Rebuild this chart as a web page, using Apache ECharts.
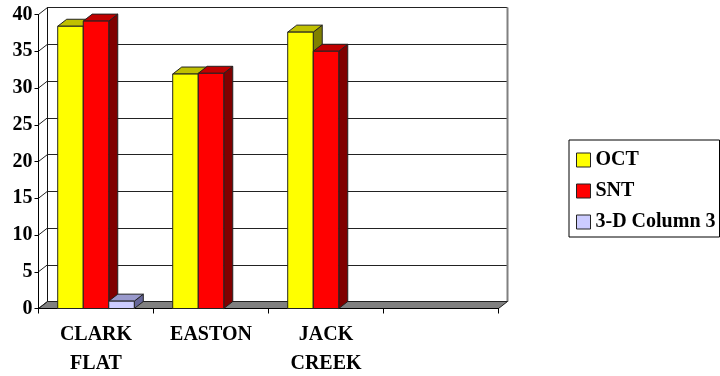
<!DOCTYPE html>
<html>
<head>
<meta charset="utf-8">
<style>html,body{margin:0;padding:0;background:#fff}#chart{width:720px;height:376px}</style>
<script src="https://cdn.jsdelivr.net/npm/echarts@6/dist/echarts.min.js"></script>
</head>
<body>
<div id="chart"></div>
<script>
// Site readings by month
const categories = ['CLARK\nFLAT', 'EASTON', 'JACK\nCREEK', ''];
const octValues = [38.4, 31.9, 37.6, null];
const sntValues = [39.1, 32.0, 35.0, null];
const column3Values = [1.0, null, null, null];
const yTicks = [0, 5, 10, 15, 20, 25, 30, 35, 40];

const FONT = '"Liberation Serif"';
const DEPTH_X = 9, DEPTH_Y = 7;
const BAR_RATIO = 0.222;

function faces(x, yTop, w, yBase, colors) {
  const stroke = { stroke: '#222', lineWidth: 1 };
  const poly = (points, fill) => ({
    type: 'polygon', shape: { points }, style: { fill, ...stroke }
  });
  return [
    poly([[x + w, yTop], [x + w + DEPTH_X, yTop - DEPTH_Y], [x + w + DEPTH_X, yBase - DEPTH_Y], [x + w, yBase]], colors[2]),
    poly([[x, yTop], [x + DEPTH_X, yTop - DEPTH_Y], [x + w + DEPTH_X, yTop - DEPTH_Y], [x + w, yTop]], colors[1]),
    poly([[x, yTop], [x + w, yTop], [x + w, yBase], [x, yBase]], colors[0])
  ];
}

// A 3-D column: front, top and side faces positioned from the category and value scales
function column(slot, colors) {
  return function (params, api) {
    const value = api.value(1);
    if (value == null || isNaN(value)) return;
    const idx = api.value(0);
    const band = api.size([1, 0])[0];
    const w = band * BAR_RATIO;
    const top = api.coord([idx, value]);
    const base = api.coord([idx, 0]);
    const x = top[0] - band / 2 + (band - 3 * w) / 2 + slot * w;
    return { type: 'group', children: faces(x, top[1], w, base[1], colors) };
  };
}

function barSeries(name, values, slot, colors) {
  return {
    type: 'custom', name, z: 5, clip: false,
    xAxisIndex: 0, yAxisIndex: 0,
    itemStyle: { color: colors[0] },
    encode: { x: 0, y: 1 },
    data: values.map((v, i) => [i, v]),
    renderItem: column(slot, colors)
  };
}

const option = {
  animation: false,
  backgroundColor: '#fff',
  textStyle: { fontFamily: FONT },
  legend: {
    left: 569, top: 140,
    orient: 'vertical',
    data: ['OCT', 'SNT', '3-D Column 3'],
    icon: 'rect',
    itemWidth: 14, itemHeight: 14, itemGap: 11,
    padding: [10, 4, 5, 7],
    borderColor: '#000', borderWidth: 1,
    itemStyle: { borderColor: '#222', borderWidth: 1 },
    selectedMode: false,
    textStyle: { fontFamily: FONT, fontWeight: 'bold', fontSize: 20, color: '#000' }
  },
  grid: [
    { left: 38.5, top: 14.5, width: 460, height: 294, outerBoundsMode: 'none' },
    { left: 47.5, top: 7.5, width: 460, height: 294, outerBoundsMode: 'none' }
  ],
  xAxis: [
    {
      type: 'category', gridIndex: 0, data: categories, z: 3,
      axisLine: { lineStyle: { color: '#000', width: 1 } },
      axisTick: { show: true, alignWithLabel: false, length: 5, lineStyle: { color: '#000' } },
      axisLabel: { interval: 0, fontFamily: FONT, fontWeight: 'bold', fontSize: 20, lineHeight: 29, color: '#000', margin: 12 }
    },
    {
      type: 'category', gridIndex: 1, data: categories,
      axisLine: { show: false }, axisTick: { show: false }, axisLabel: { show: false }
    }
  ],
  yAxis: [
    {
      type: 'value', gridIndex: 0, min: 0, max: 40, interval: 5, z: 3,
      axisLine: { show: true, lineStyle: { color: '#000', width: 1 } },
      axisTick: { show: true, length: 4, lineStyle: { color: '#000' } },
      splitLine: { show: false },
      axisLabel: { fontFamily: FONT, fontWeight: 'bold', fontSize: 20, color: '#000', margin: 6, padding: [4, 0, 0, 0] }
    },
    {
      type: 'value', gridIndex: 1, min: 0, max: 40, interval: 5,
      axisLine: { show: true, lineStyle: { color: '#111', width: 1 } },
      axisTick: { show: false }, axisLabel: { show: false },
      splitLine: { show: true, lineStyle: { color: '#222', width: 1 } }
    }
  ],
  series: [
    // Right wall edge, on the back plane
    {
      type: 'custom', z: 1, clip: false, xAxisIndex: 1, yAxisIndex: 1, silent: true,
      data: [[0, 0]],
      renderItem(params, api) {
        const band = api.size([1, 0])[0];
        const low = api.coord([categories.length - 1, 0]);
        const high = api.coord([categories.length - 1, 40]);
        const x = low[0] + band / 2;
        return { type: 'line', shape: { x1: x, y1: low[1], x2: x, y2: high[1] }, style: { stroke: '#808080', lineWidth: 2 } };
      }
    },
    // Floor of the plot box
    {
      type: 'custom', z: 2, clip: false, xAxisIndex: 0, yAxisIndex: 0, silent: true,
      data: [[0, 0]],
      renderItem(params, api) {
        const band = api.size([1, 0])[0];
        const a = api.coord([0, 0]);
        const left = a[0] - band / 2;
        const right = left + band * categories.length;
        return {
          type: 'polygon',
          shape: { points: [[left, a[1]], [left + DEPTH_X, a[1] - DEPTH_Y], [right + DEPTH_X, a[1] - DEPTH_Y], [right, a[1]]] },
          style: { fill: '#808080', stroke: '#222', lineWidth: 1 }
        };
      }
    },
    // Diagonals on the left wall, one per tick
    {
      type: 'custom', z: 2, clip: false, xAxisIndex: 0, yAxisIndex: 0, silent: true,
      data: yTicks.map(t => [0, t]),
      encode: { x: 0, y: 1 },
      renderItem(params, api) {
        const band = api.size([1, 0])[0];
        const p = api.coord([0, api.value(1)]);
        const x = p[0] - band / 2;
        return { type: 'line', shape: { x1: x, y1: p[1], x2: x + DEPTH_X, y2: p[1] - DEPTH_Y }, style: { stroke: '#222', lineWidth: 1 } };
      }
    },
    barSeries('OCT', octValues, 0, ['#ffff00', '#c0c000', '#808000']),
    barSeries('SNT', sntValues, 1, ['#ff0000', '#c00000', '#800000']),
    barSeries('3-D Column 3', column3Values, 2, ['#ccccff', '#9999cc', '#666699'])
  ]
};

echarts.init(document.getElementById('chart'), null, { renderer: 'canvas' }).setOption(option);
</script>
</body>
</html>
